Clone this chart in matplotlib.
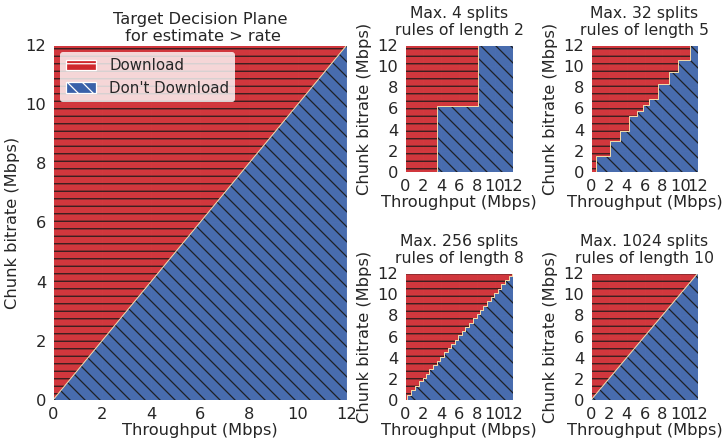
import numpy as np
import matplotlib.pyplot as plt
import seaborn as sns
from matplotlib.patches import Patch

sns.set_style('darkgrid')
plt.rcParams['font.family'] = ['DejaVu Sans']
plt.rcParams['hatch.linewidth'] = 1.0

# decision boundaries: below the boundary is "Don't Download"
target_x = [0, 12]
target_y = [0, 12]

split4_x = [0, 3.6, 8.1, 12]
split4_y = [0, 6.2, 12, 12]

split32_x = [0, 0.56, 2.08, 3.2, 4.3, 5.2, 5.87, 6.5, 7.5, 8.77, 9.8, 11.1, 12]
split32_y = [0, 1.5, 2.9, 3.85, 5.3, 5.8, 6.37, 6.9, 8.3, 9.45, 10.6, 12, 12]

split256_x = [0, 0.25, 0.7, 1.1, 1.5, 1.95, 2.3, 2.7, 3.15, 3.5, 3.9, 4.3, 4.75,
              5.1, 5.5, 5.9, 6.35, 6.7, 7.1, 7.5, 7.95, 8.3, 8.7, 9.1, 9.55, 9.9,
              10.3, 10.7, 11.15, 11.5, 11.9, 12]
split256_y = [0, 0.45, 0.9, 1.3, 1.75, 2.1, 2.5, 2.95, 3.3, 3.7, 4.1, 4.55, 4.9,
              5.3, 5.7, 6.15, 6.5, 6.9, 7.3, 7.75, 8.1, 8.5, 8.9, 9.35, 9.7, 10.1,
              10.5, 10.95, 11.3, 11.7, 12, 12]

split1024_x = [0, 12]
split1024_y = [0, 12]

ticks = [0, 2, 4, 6, 8, 10, 12]

RED = '#cf282d'
BLUE = '#3a61a9'
HATCH = '#1a1a1a'
FS = 13

fig = plt.figure(figsize=(724 / 90, 445 / 90), dpi=90)

ax_big = fig.add_axes([0.0732, 0.1011, 0.406, 0.798])
ax1 = fig.add_axes([0.5594, 0.6135, 0.1492, 0.2854])
ax2 = fig.add_axes([0.8163, 0.6135, 0.1478, 0.2854])
ax3 = fig.add_axes([0.5594, 0.1011, 0.1492, 0.2854])
ax4 = fig.add_axes([0.8163, 0.1011, 0.1478, 0.2854])

panels = [
    (ax_big, target_x, target_y, None, 'Target Decision Plane\n for estimate > rate', 13, 3),
    (ax1, split4_x, split4_y, 'post', 'Max. 4 splits\nrules of length 2', 12.5, 8),
    (ax2, split32_x, split32_y, 'post', 'Max. 32 splits\nrules of length 5', 12.5, 8),
    (ax3, split256_x, split256_y, 'post', 'Max. 256 splits\nrules of length 8', 12.5, 8),
    (ax4, split1024_x, split1024_y, None, 'Max. 1024 splits\nrules of length 10', 12.5, 8),
]

for ax, bx, by, step, title, tfs, tpad in panels:
    ax.fill_between(bx, by, 12, step=step, facecolor=RED, edgecolor=HATCH,
                    linewidth=0, hatch='--', alpha=0.92)
    ax.fill_between(bx, 0, by, step=step, facecolor=BLUE, edgecolor=HATCH,
                    linewidth=0, hatch='\\\\', alpha=0.92)
    ds = 'steps-post' if step == 'post' else 'default'
    ax.plot(bx, by, drawstyle=ds, color='#f3d9a8', lw=0.8)
    ax.set_xlim(0, 12)
    ax.set_ylim(0, 12)
    ax.set_xticks(ticks)
    ax.set_yticks(ticks)
    ax.tick_params(labelsize=FS, pad=2)
    ax.set_xlabel('Throughput (Mbps)', fontsize=FS, labelpad=1)
    ax.set_ylabel('Chunk bitrate (Mbps)', fontsize=FS, labelpad=4)
    ax.set_title(title, fontsize=tfs, pad=tpad)

handles = [Patch(facecolor=RED, edgecolor='white', hatch='--', label='Download'),
           Patch(facecolor=BLUE, edgecolor='white', hatch='\\\\', label="Don't Download")]
ax_big.legend(handles=handles, loc='upper left', fontsize=12, frameon=True,
              framealpha=0.8, facecolor='white', edgecolor='none',
              handlelength=2.0, handletextpad=0.85, borderaxespad=0.5)

fig.savefig('out.png', dpi=90)
